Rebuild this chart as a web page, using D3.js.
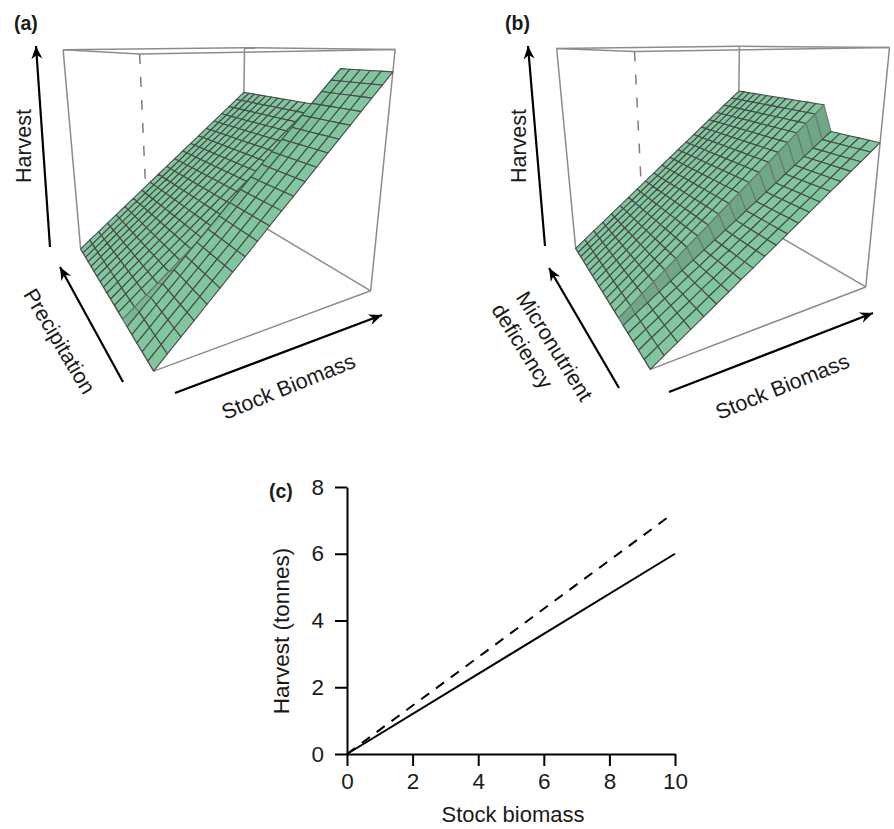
<!DOCTYPE html>
<html>
<head>
<meta charset="utf-8">
<script src="https://cdn.jsdelivr.net/npm/d3@7"></script>
<style>
  html, body { margin: 0; padding: 0; background: #fff; }
  text { font-family: "Liberation Sans", sans-serif; fill: #1a1a1a; }
</style>
</head>
<body>
<div id="viz"></div>
<script>
const width = 894;
const height = 829;

// Surface grid (panels a and b)
const stockGrid = [0, 0.5, 1, 1.5, 2, 2.5, 3, 3.5, 4, 4.5, 5, 5.5, 6, 6.5, 7, 7.5, 8, 8.5, 9, 9.5, 10];
const factorGrid = [0, 1, 2, 3, 4, 5, 6, 7, 8, 9, 10, 11, 12, 13, 14, 15, 16, 17, 18, 19];

// Harvest along the stock grid, one list per response level
const harvestHigh = [0, 0.37, 0.74, 1.1, 1.47, 1.84, 2.21, 2.57, 2.94, 3.31, 3.68, 4.04, 4.41, 4.78, 5.15, 5.51, 5.88, 6.25, 6.62, 6.98, 7.35];
const harvestMid = [0, 0.3, 0.6, 0.9, 1.2, 1.5, 1.8, 2.1, 2.4, 2.7, 3, 3.3, 3.6, 3.9, 4.2, 4.5, 4.8, 5.1, 5.4, 5.7, 6];
const harvestLow = [0, 0.26, 0.51, 0.77, 1.02, 1.28, 1.53, 1.79, 2.04, 2.3, 2.55, 2.81, 3.06, 3.32, 3.57, 3.83, 4.08, 4.34, 4.59, 4.85, 5.1];

// Which level each row of factorGrid takes
const rowsA = [harvestHigh, harvestHigh, harvestHigh, harvestHigh, harvestHigh, harvestHigh, harvestMid, harvestMid, harvestMid, harvestMid, harvestMid, harvestMid, harvestMid, harvestMid, harvestMid, harvestMid, harvestMid, harvestMid, harvestMid, harvestMid];
const rowsB = [harvestLow, harvestLow, harvestLow, harvestLow, harvestLow, harvestLow, harvestMid, harvestMid, harvestMid, harvestMid, harvestMid, harvestMid, harvestMid, harvestMid, harvestMid, harvestMid, harvestMid, harvestMid, harvestMid, harvestMid];

// Panel c
const lineStock = [0, 10];
const lineSolid = [0, 6];
const dashStock = [0, 9.75];
const lineDashed = [0, 7.07];
const ticksX = [0, 2, 4, 6, 8, 10];
const ticksY = [0, 2, 4, 6, 8];

// Box corners on the page: [stock, factor, harvest] cube corner -> pixel
const boxA = [
  [[0, 0, 0], [154, 373]], [[1, 0, 0], [368, 290]], [[0, 1, 0], [79, 247]], [[1, 1, 0], [245, 215]],
  [[0, 0, 1], [141, 55]], [[1, 0, 1], [397, 48]], [[0, 1, 1], [64, 50]], [[1, 1, 1], [242, 48]]
];
const boxB = [
  [[0, 0, 0], [650, 371]], [[1, 0, 0], [863, 286]], [[0, 1, 0], [574, 247]], [[1, 1, 0], [741, 213]],
  [[0, 0, 1], [636, 53]], [[1, 0, 1], [892, 46]], [[0, 1, 1], [558, 48]], [[1, 1, 1], [736, 47]]
];

const svg = d3.select('#viz').append('svg')
  .attr('width', width)
  .attr('height', height)
  .style('display', 'block');

const defs = svg.append('defs');
defs.append('marker')
  .attr('id', 'head')
  .attr('markerUnits', 'userSpaceOnUse')
  .attr('viewBox', '-14 -7 16 14')
  .attr('markerWidth', 16)
  .attr('markerHeight', 14)
  .attr('refX', 0)
  .attr('refY', 0)
  .attr('orient', 'auto')
  .append('path')
  .attr('d', 'M0,0 L-13,-5.5 L-9,0 L-13,5.5 Z')
  .attr('fill', '#000');

// Fit a perspective camera to the eight box corners (least squares)
const fitCamera = (corners) => {
  const A = [];
  const b = [];
  corners.forEach(([[X, Y, Z], [u, v]]) => {
    A.push([X, Y, Z, 1, 0, 0, 0, 0, -u * X, -u * Y, -u * Z]);
    b.push(u);
    A.push([0, 0, 0, 0, X, Y, Z, 1, -v * X, -v * Y, -v * Z]);
    b.push(v);
  });
  const n = 11;
  const M = d3.range(n).map(i => d3.range(n + 1).map(j => {
    if (j === n) return d3.sum(A, (row, k) => row[i] * b[k]);
    return d3.sum(A, row => row[i] * row[j]);
  }));
  for (let i = 0; i < n; i++) {
    let best = i;
    for (let r = i + 1; r < n; r++) if (Math.abs(M[r][i]) > Math.abs(M[best][i])) best = r;
    [M[i], M[best]] = [M[best], M[i]];
    for (let r = 0; r < n; r++) {
      if (r === i) continue;
      const f = M[r][i] / M[i][i];
      for (let c = i; c <= n; c++) M[r][c] -= f * M[i][c];
    }
  }
  const p = M.map((row, i) => row[n] / row[i]);
  return (X, Y, Z) => {
    const w = p[8] * X + p[9] * Y + p[10] * Z + 1;
    return [
      (p[0] * X + p[1] * Y + p[2] * Z + p[3]) / w,
      (p[4] * X + p[5] * Y + p[6] * Z + p[7]) / w
    ];
  };
};

const scaleStock = d3.scaleLinear().domain([0, 10]).range([0, 1]);
const scaleFactor = d3.scaleLinear().domain([0, 19]).range([0, 1]);
const scaleHarvest = d3.scaleLinear().domain([0, 8]).range([0, 1]);
const polyLine = d3.line();

const drawSurface = (corners, rows, stepFill) => {
  const project = fitCamera(corners);
  const g = svg.append('g');
  const pt = (X, Y, Z) => project(X, Y, Z);

  // Box edges behind the surface
  const edges = [
    [[0, 1, 0], [1, 1, 0]], [[1, 0, 0], [1, 1, 0]], [[0, 0, 0], [1, 0, 0]], [[0, 0, 0], [0, 1, 0]],
    [[0, 1, 0], [0, 1, 1]], [[1, 1, 0], [1, 1, 1]], [[1, 0, 0], [1, 0, 1]],
    [[0, 0, 1], [1, 0, 1]], [[1, 0, 1], [1, 1, 1]], [[1, 1, 1], [0, 1, 1]], [[0, 1, 1], [0, 0, 1]]
  ];
  g.selectAll('.edge').data(edges).join('path')
    .attr('class', 'edge')
    .attr('d', d => polyLine(d.map(c => pt(...c))))
    .attr('fill', 'none')
    .attr('stroke', '#8c8c8c')
    .attr('stroke-width', 1.5);
  g.append('path')
    .attr('d', polyLine([pt(0, 0, 1), pt(0, 0, 0)]))
    .attr('fill', 'none')
    .attr('stroke', '#7d7d7d')
    .attr('stroke-width', 1.5)
    .attr('stroke-dasharray', '10 13');

  // Cells, back row first
  const cells = [];
  for (let r = factorGrid.length - 2; r >= 0; r--) {
    for (let c = stockGrid.length - 2; c >= 0; c--) {
      cells.push({ r, c });
    }
  }
  const cellPoints = ({ r, c }) => [[r, c], [r, c + 1], [r + 1, c + 1], [r + 1, c]]
    .map(([i, j]) => pt(scaleStock(stockGrid[j]), scaleFactor(factorGrid[i]), scaleHarvest(rows[i][j])));
  const isStep = ({ r }) => rows[r] !== rows[r + 1];

  g.selectAll('.cell').data(cells).join('path')
    .attr('class', 'cell')
    .attr('d', d => polyLine(cellPoints(d)) + 'Z')
    .attr('fill', d => isStep(d) ? stepFill : '#78c299')
    .attr('fill-opacity', 0.94)
    .attr('stroke', d => isStep(d) ? '#6b7a72' : '#4a4a4a')
    .attr('stroke-width', 1.1)
    .attr('stroke-linejoin', 'round');
};

const drawArrow = (x1, y1, x2, y2) => {
  svg.append('line')
    .attr('x1', x1).attr('y1', y1)
    .attr('x2', x2).attr('y2', y2)
    .attr('stroke', '#000')
    .attr('stroke-width', 2.2)
    .attr('marker-end', 'url(#head)');
};

const axisLabel = (label, x, y, angle, size = 21.5) => {
  svg.append('text')
    .attr('transform', `translate(${x},${y}) rotate(${angle})`)
    .attr('text-anchor', 'middle')
    .attr('dominant-baseline', 'middle')
    .style('font-size', `${size}px`)
    .text(label);
};

const panelLabel = (label, x, y) => {
  svg.append('text')
    .attr('x', x)
    .attr('y', y)
    .style('font-size', '19.5px')
    .style('font-weight', 700)
    .text(label);
};

// Panel a
drawSurface(boxA, rowsA, '#70b08e');
drawArrow(50, 247, 36, 46);
drawArrow(123, 382, 60, 267);
drawArrow(175, 393, 382, 315);
axisLabel('Harvest', 25, 146, -90);
axisLabel('Precipitation', 58, 342, 59);
axisLabel('Stock Biomass', 289, 388, -22);
panelLabel('(a)', 14, 30);

// Panel b
drawSurface(boxB, rowsB, '#66a181');
drawArrow(545, 246, 528, 46);
drawArrow(619, 388, 549, 268);
drawArrow(669, 392, 873, 313);
axisLabel('Harvest', 520, 146, -90);
axisLabel('Micronutrient', 553, 347, 58);
axisLabel('deficiency', 521, 347, 58);
axisLabel('Stock Biomass', 783, 388, -22);
panelLabel('(b)', 505, 30);

// Panel c
const scaleX = d3.scaleLinear().domain([0, 10]).range([347, 675]);
const scaleY = d3.scaleLinear().domain([0, 8]).range([754, 487]);

const styleAxis = (sel) => {
  sel.selectAll('path').attr('stroke', '#000').attr('stroke-width', 2);
  sel.selectAll('line').attr('stroke', '#000').attr('stroke-width', 2);
  sel.selectAll('text').style('font-size', '22.5px').style('font-family', '"Liberation Sans", sans-serif').attr('fill', '#1a1a1a');
};
svg.append('g')
  .attr('transform', 'translate(0,754)')
  .call(d3.axisBottom(scaleX).tickValues(ticksX).tickSize(12).tickSizeOuter(0).tickPadding(7).tickFormat(d3.format('d')))
  .call(styleAxis);
svg.append('g')
  .attr('transform', 'translate(347,0)')
  .call(d3.axisLeft(scaleY).tickValues(ticksY).tickSize(12).tickSizeOuter(0).tickPadding(11).tickFormat(d3.format('d')))
  .call(styleAxis);

const line = d3.line().x(d => scaleX(d[0])).y(d => scaleY(d[1]));
svg.append('path')
  .attr('d', line(d3.zip(lineStock, lineSolid)))
  .attr('fill', 'none')
  .attr('stroke', '#000')
  .attr('stroke-width', 2);
svg.append('path')
  .attr('d', line(d3.zip(dashStock, lineDashed)))
  .attr('fill', 'none')
  .attr('stroke', '#000')
  .attr('stroke-width', 2)
  .attr('stroke-dasharray', '10 8.43');

axisLabel('Harvest (tonnes)', 283, 631, -90, 22.5);
axisLabel('Stock biomass', 513, 816, 0, 22);
panelLabel('(c)', 269, 498);
</script>
</body>
</html>
